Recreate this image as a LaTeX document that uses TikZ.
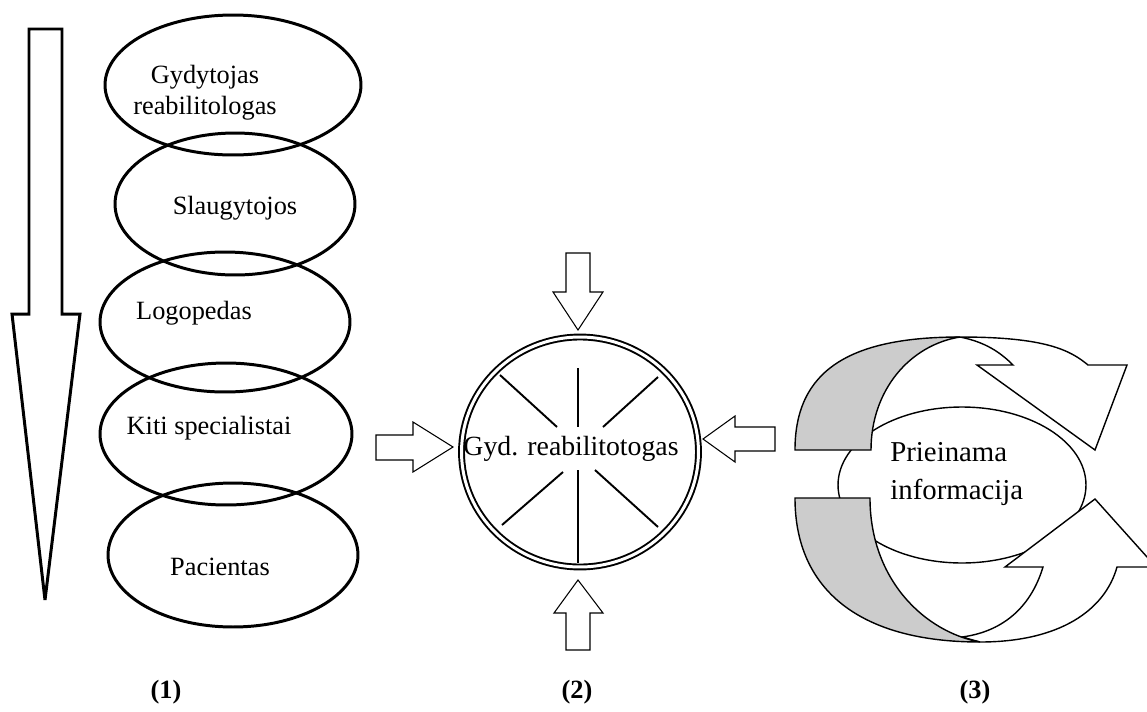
\documentclass[tikz,border=0pt]{standalone}
\usepackage{fontspec}
\setmainfont{Liberation Serif}
\usetikzlibrary{shapes.geometric}

\begin{document}
\begin{tikzpicture}[x=0.02cm,y=-0.02cm,
  oval/.style={draw, ellipse, line width=1.7pt, inner sep=0pt},
  blockarrow/.style={draw, line width=0.6pt, line join=miter},
  ribbon/.style={draw, line width=0.8pt},
  lbl/.style={font=\fontsize{15}{17.6}\selectfont, inner sep=0pt},
  num/.style={font=\bfseries\fontsize{15}{18}\selectfont, inner sep=0pt}]
  \useasboundingbox (0,0) rectangle (1147,711);

  % (1)
  \draw[line width=1.7pt, miter limit=3] (29,29) -- (62,29) -- (62,314) -- (80,314)
    -- (45,600) -- (12,314) -- (29,314) -- cycle;
  \node[oval, minimum width=5.12cm, minimum height=2.8cm] (gydytojas) at (233,85) {};
  \node[oval, minimum width=4.8cm, minimum height=2.84cm] (slaug) at (235,204) {};
  \node[oval, minimum width=5.0cm, minimum height=2.8cm] (logo) at (225,322) {};
  \node[oval, minimum width=5.04cm, minimum height=2.84cm] (kiti) at (226,434) {};
  \node[oval, minimum width=5.0cm, minimum height=2.88cm] (pac) at (233,555) {};

  \node[lbl, align=center] at ([shift={(-28,8)}]gydytojas.center) {Gydytojas\\reabilitologas};
  \node[lbl] at ([shift={(0,4)}]slaug.center) {Slaugytojos};
  \node[lbl] at ([shift={(-31,-9)}]logo.center) {Logopedas};
  \node[lbl] at ([shift={(-17,-6)}]kiti.center) {Kiti specialistai};
  \node[lbl] at ([shift={(-13,12)}]pac.center) {Pacientas};

  % (2)
  \node[draw, ellipse, double, line width=1.1pt, double distance=1.7pt, inner sep=0pt,
    minimum width=4.74cm, minimum height=4.6cm] (gyd) at (580,452) {};
  \draw[line width=1.1pt] (500,375) -- (557,427);
  \draw[line width=1.1pt] (658,377) -- (603,427);
  \draw[line width=1.1pt] (563,472) -- (502,525);
  \draw[line width=1.1pt] (595,470) -- (658,527);
  \draw[line width=1.1pt] (578,368) -- (578,427);
  \draw[line width=1.1pt] (578,470) -- (578,563);
  \node[font=\fontsize{15.8}{19}\selectfont, inner sep=0pt] (gydtxt) at (571,449) {Gyd. reabilitotogas};

  \draw[blockarrow] (566,253) -- (590,253) -- (590,292) -- (603,292) -- (578,330)
    -- (553,292) -- (566,292) -- cycle;
  \draw[blockarrow] (566,650) -- (566,613) -- (554,613) -- (578,580) -- (603,613)
    -- (590,613) -- (590,650) -- cycle;
  \draw[blockarrow] (376,435) -- (413,435) -- (413,422) -- (453,447) -- (413,472)
    -- (413,460) -- (376,460) -- cycle;
  \draw[blockarrow] (775,427) -- (735,427) -- (735,416) -- (703,439) -- (735,462)
    -- (735,451) -- (775,451) -- cycle;

  % (3)
  \node[ribbon, ellipse, fill=white, inner sep=0pt, minimum width=4.96cm,
    minimum height=3.12cm] (info) at (962,485) {};
  \node[font=\fontsize{16.4}{21.5}\selectfont, align=left, anchor=west, inner sep=0pt]
    (infotxt) at (890,474) {Prieinama\\informacija};

  \draw[ribbon, fill=white] (960,337) .. controls (1045,337) and (1070,350) .. (1088,365)
    -- (1127,365) -- (1095,450) -- (977,365) -- (1013,365)
    .. controls (1000,352) and (985,342) .. (960,337) -- cycle;
  \draw[ribbon, fill=gray!40] (795,450) .. controls (795,370) and (850,337) .. (960,337)
    .. controls (910,345) and (871,390) .. (871,450) -- cycle;

  \draw[ribbon, fill=white] (980,642) .. controls (1060,642) and (1105,610) .. (1117,567)
    -- (1156,567) -- (1095,499) -- (1005,567) -- (1043,567)
    .. controls (1030,610) and (1000,632) .. (962,637) -- cycle;
  \draw[ribbon, fill=gray!40] (795,498) -- (870,498) .. controls (870,580) and (925,632) .. (980,642)
    .. controls (860,642) and (795,590) .. (795,498) -- cycle;

  \node[num] (n1) at (166,692) {(1)};
  \node[num] (n2) at (577,692) {(2)};
  \node[num] (n3) at (975,692) {(3)};
\end{tikzpicture}
\end{document}
